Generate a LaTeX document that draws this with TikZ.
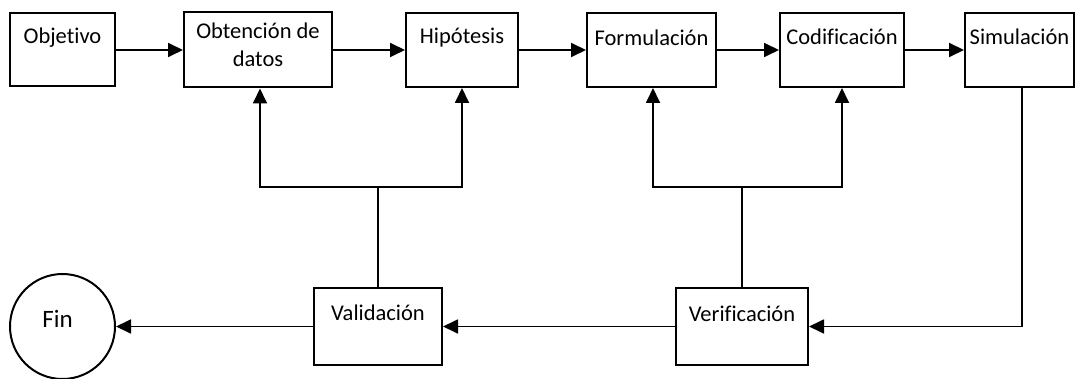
\documentclass[tikz,border=0pt]{standalone}
\usepackage{fontspec}
\setmainfont{Carlito}[Ligatures={NoCommon}]
\usetikzlibrary{arrows.meta,calc}
\begin{document}
\begin{tikzpicture}[x=1pt,y=-1pt,
  line width=1.8pt,
  boxnode/.style={draw, rectangle, inner sep=0pt, line width=2pt},
  txt/.style={font=\fontsize{22.5}{28}\selectfont, align=center, inner sep=0pt},
  arr/.style={-{Triangle[length=15pt,width=14pt]}, line width=1.8pt},
  con/.style={line width=1.8pt}]
\useasboundingbox (0,0) rectangle (1078,379);
% boxes
\node[boxnode, minimum width=105pt, minimum height=73pt] (obj) at (62.5,50) {};
\node[boxnode, minimum width=148pt, minimum height=75pt] (obt) at (258,50) {};
\node[boxnode, minimum width=112pt, minimum height=74pt] (hip) at (462,50) {};
\node[boxnode, minimum width=129pt, minimum height=74pt] (form) at (651.5,50) {};
\node[boxnode, minimum width=124pt, minimum height=74pt] (cod) at (842,50) {};
\node[boxnode, minimum width=109pt, minimum height=74pt] (sim) at (1019.5,50) {};
\node[boxnode, minimum width=128pt, minimum height=77pt] (val) at (378,326.5) {};
\node[boxnode, minimum width=132pt, minimum height=77pt] (ver) at (742,326.5) {};
\node[draw, circle, minimum size=105pt, inner sep=0pt, line width=2pt] (fin) at (62.5,326.5) {};
% texts
\node[txt] (tobj) at ($(obj.north)+(0,25.5)$) {Objetivo};
\node[txt] (tobt) at ($(obt.north)+(0,33.5)$) {Obtención de\\datos};
\node[txt] (thip) at ($(hip.north)+(0,26)$) {Hipótesis};
\node[txt] (tform) at ($(form.north)+(0,26)$) {Formulación};
\node[txt] (tcod) at ($(cod.north)+(0,25)$) {Codificación};
\node[txt] (tsim) at ($(sim.north)+(0,25)$) {Simulación};
\node[txt] (tval) at ($(val.north)+(0,26)$) {Validación};
\node[txt] (tver) at ($(ver.north)+(0,27)$) {Verificación};
\node[txt, font=\fontsize{25}{30}\selectfont] (tfin) at ($(fin.center)+(-5,-8)$) {Fin};
% top row arrows
\draw[arr] (obj.east) -- (obt.west);
\draw[arr] (obt.east) -- (hip.west);
\draw[arr] (hip.east) -- (form.west);
\draw[arr] (form.east) -- (cod.west);
\draw[arr] (cod.east) -- (sim.west);
% simulation to verification
\draw[arr] ([xshift=2.5pt]sim.south) |- (ver.east);
% bottom row
\draw[arr] (ver.west) -- (val.east);
\draw[arr] (val.west) -- (fin.east);
% feedback from validation
\coordinate (j1) at (378,187);
\draw[con] (val.north) -- (j1);
\draw[arr] (j1) -| ([xshift=2pt]obt.south);
\draw[arr] (j1) -| (hip.south);
% feedback from verification
\coordinate (j2) at (742,187);
\draw[con] (ver.north) -- (j2);
\draw[arr] (j2) -| ([xshift=1.5pt]form.south);
\draw[arr] (j2) -| (cod.south);
\end{tikzpicture}
\end{document}
